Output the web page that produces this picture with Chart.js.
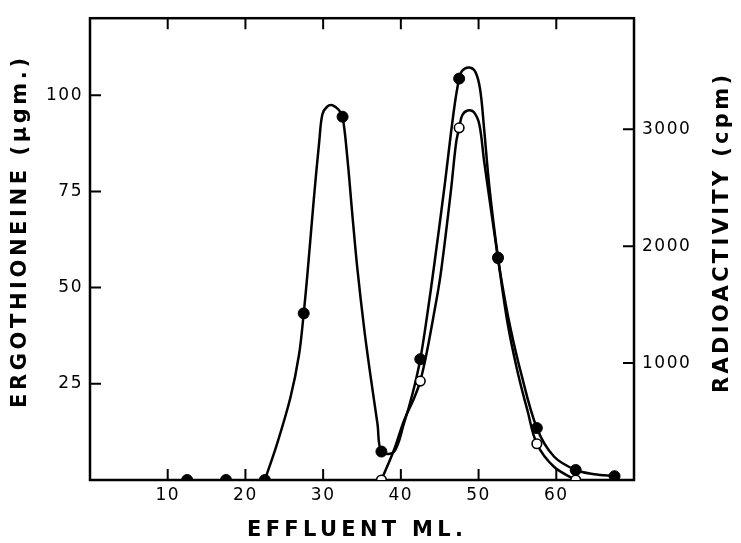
<!DOCTYPE html>
<html lang="en">
<head>
    <meta charset="UTF-8">
    <title>Ergothioneine elution profile</title>
    <style>
        body { margin: 0; background: #fff; }
        .chart-box { position: relative; width: 741px; height: 543px; }
    </style>
    <script src="https://cdn.jsdelivr.net/npm/chart.js"></script>
</head>
<body>
    <div class="chart-box">
        <canvas id="elution"></canvas>
    </div>

    <script>
        // Measured fractions (filled circles = ergothioneine, open = radioactivity)
        const ergoX = [12.5, 17.5, 22.5, 27.5, 32.5, 37.5, 42.5, 47.5, 52.5, 57.5, 62.5, 67.5];
        const ergoY = [0, 0, 0, 43.3, 94.4, 7.4, 31.4, 104.3, 57.8, 13.5, 2.6, 1.0];
        const radioX = [37.5, 42.5, 47.5, 52.5, 57.5, 62.5];
        const radioY = [0, 846, 3012, 1895, 310, 0];

        // Hand-drawn curves
        const ergoCurveX = [22.5, 24.1, 25.8, 26.9, 27.5, 28.0, 28.8, 29.5, 29.9, 30.5, 31.2, 32.0, 32.5, 33.1, 33.8, 34.4, 35.3, 36.1, 37.0, 37.5,
                            39.1, 40.4, 41.5, 42.5, 43.4, 44.3, 45.6, 46.8, 47.5, 47.9, 48.8, 49.6, 50.2, 50.7, 51.4, 52.5, 53.2, 54.1, 55.4, 57.5, 59.7, 62.5, 64.9, 67.5];
        const ergoCurveY = [0, 9.6, 21.5, 32.6, 43.3, 54.0, 73.0, 88.0, 95.0, 97.0, 97.4, 96.2, 94.4, 84.0, 68.0, 55.0, 39.0, 27.0, 14.5, 7.4,
                            7.3, 14.7, 22.4, 31.4, 43.0, 56.0, 76.0, 95.7, 104.3, 106.4, 107.2, 106.0, 101.5, 91.5, 76.0, 57.8, 49.0, 39.5, 28.3, 13.5, 6.1, 2.6, 1.5, 1.0];
        const radioCurveX = [37.5, 39.1, 40.4, 41.7, 42.5, 43.3, 44.2, 45.1, 46.4, 47.1, 47.5, 47.9, 48.6, 49.4, 50.1, 50.7, 51.6, 52.5, 53.7, 55.0, 56.3, 57.5, 59.7, 62.5];
        const radioCurveY = [0, 254, 508, 700, 846, 1080, 1400, 1750, 2450, 2880, 3012, 3120, 3160, 3145, 3040, 2735, 2312, 1895, 1354, 931, 592, 310, 113, 0];

        const xTicks = [10, 20, 30, 40, 50, 60];
        const leftTicks = [25, 50, 75, 100];
        const rightTicks = [1000, 2000, 3000];

        const xTitle = 'EFFLUENT ML.';
        const leftTitle = 'ERGOTHIONEINE (µgm.)';
        const rightTitle = 'RADIOACTIVITY (cpm)';

        const pts = (xs, ys) => xs.map((x, i) => ({ x: x, y: ys[i] }));

        Chart.defaults.font.family = "'DejaVu Sans', sans-serif";
        Chart.defaults.color = '#000';

        // spaced lettering for the axis titles
        function spacedText(ctx, text, cx, cy, rot, width) {
            ctx.save();
            ctx.translate(cx, cy);
            ctx.rotate(rot);
            ctx.letterSpacing = '0px';
            const w = ctx.measureText(text).width;
            ctx.letterSpacing = ((width - w) / (text.length - 1)) + 'px';
            ctx.textAlign = 'left';
            ctx.textBaseline = 'middle';
            ctx.fillText(text, -width / 2, 0);
            ctx.restore();
        }

        // box, inward tick marks and titles
        const frame = {
            id: 'frame',
            beforeDraw(chart) {
                chart.ctx.letterSpacing = '1.5px';
            },
            beforeDatasetsDraw(chart) {
                const { ctx, chartArea: a, scales } = chart;
                ctx.save();
                ctx.strokeStyle = '#000';
                ctx.lineWidth = 2.5;
                ctx.strokeRect(a.left, a.top, a.right - a.left, a.bottom - a.top);
                ctx.lineWidth = 2;
                ctx.beginPath();
                xTicks.forEach(v => {
                    const px = scales.x.getPixelForValue(v);
                    ctx.moveTo(px, a.bottom); ctx.lineTo(px, a.bottom - 11);
                    ctx.moveTo(px, a.top); ctx.lineTo(px, a.top + 11);
                });
                leftTicks.forEach(v => {
                    const py = scales.y.getPixelForValue(v);
                    ctx.moveTo(a.left, py); ctx.lineTo(a.left + 11, py);
                });
                rightTicks.forEach(v => {
                    const py = scales.y2.getPixelForValue(v);
                    ctx.moveTo(a.right, py); ctx.lineTo(a.right - 11, py);
                });
                ctx.stroke();
                ctx.restore();
            },
            afterDraw(chart) {
                const ctx = chart.ctx;
                ctx.save();
                ctx.fillStyle = '#000';
                ctx.font = "bold 21px 'DejaVu Sans', sans-serif";
                spacedText(ctx, xTitle, 355, 531, 0, 216);
                spacedText(ctx, leftTitle, 21, 233, -Math.PI / 2, 350);
                spacedText(ctx, rightTitle, 723, 234, -Math.PI / 2, 318);
                ctx.restore();
            }
        };

        const ctx = document.getElementById('elution').getContext('2d');
        new Chart(ctx, {
            type: 'scatter',
            data: {
                datasets: [
                    {
                        label: 'Ergothioneine',
                        data: pts(ergoX, ergoY),
                        yAxisID: 'y',
                        showLine: false,
                        pointRadius: 5.5,
                        pointBackgroundColor: '#000',
                        pointBorderColor: '#000',
                        pointBorderWidth: 1,
                        order: 0
                    },
                    {
                        label: 'Radioactivity',
                        data: pts(radioX, radioY),
                        yAxisID: 'y2',
                        showLine: false,
                        pointRadius: 4.8,
                        pointBackgroundColor: '#fff',
                        pointBorderColor: '#000',
                        pointBorderWidth: 1.6,
                        order: 1
                    },
                    {
                        label: 'Ergothioneine curve',
                        data: pts(ergoCurveX, ergoCurveY),
                        yAxisID: 'y',
                        showLine: true,
                        pointRadius: 0,
                        borderColor: '#000',
                        borderWidth: 2.5,
                        tension: 0.35,
                        order: 2
                    },
                    {
                        label: 'Radioactivity curve',
                        data: pts(radioCurveX, radioCurveY),
                        yAxisID: 'y2',
                        showLine: true,
                        pointRadius: 0,
                        borderColor: '#000',
                        borderWidth: 2.5,
                        tension: 0.35,
                        order: 3
                    }
                ]
            },
            options: {
                responsive: true,
                maintainAspectRatio: false,
                animation: false,
                layout: { padding: { top: 13, left: 0, right: 0, bottom: 0 } },
                plugins: {
                    legend: { display: false },
                    tooltip: { enabled: false }
                },
                scales: {
                    x: {
                        type: 'linear',
                        position: 'bottom',
                        min: 0,
                        max: 70,
                        afterBuildTicks: s => { s.ticks = xTicks.map(v => ({ value: v })); },
                        afterFit: s => { s.height = 63; },
                        grid: { display: false, drawTicks: false },
                        border: { display: false },
                        ticks: { font: { size: 17 }, padding: 5, maxRotation: 0, callback: v => String(v) }
                    },
                    y: {
                        type: 'linear',
                        position: 'left',
                        min: 0,
                        max: 120,
                        afterBuildTicks: s => { s.ticks = leftTicks.map(v => ({ value: v })); },
                        afterFit: s => { s.width = 90; },
                        grid: { display: false, drawTicks: false },
                        border: { display: false },
                        ticks: { font: { size: 17 }, padding: 7, callback: v => String(v) }
                    },
                    y2: {
                        type: 'linear',
                        position: 'right',
                        min: 0,
                        max: 3950,
                        afterBuildTicks: s => { s.ticks = rightTicks.map(v => ({ value: v })); },
                        afterFit: s => { s.width = 107; },
                        grid: { display: false, drawTicks: false },
                        border: { display: false },
                        ticks: { font: { size: 17 }, padding: 8, callback: v => String(v) }
                    }
                }
            },
            plugins: [frame]
        });
    </script>
</body>
</html>
